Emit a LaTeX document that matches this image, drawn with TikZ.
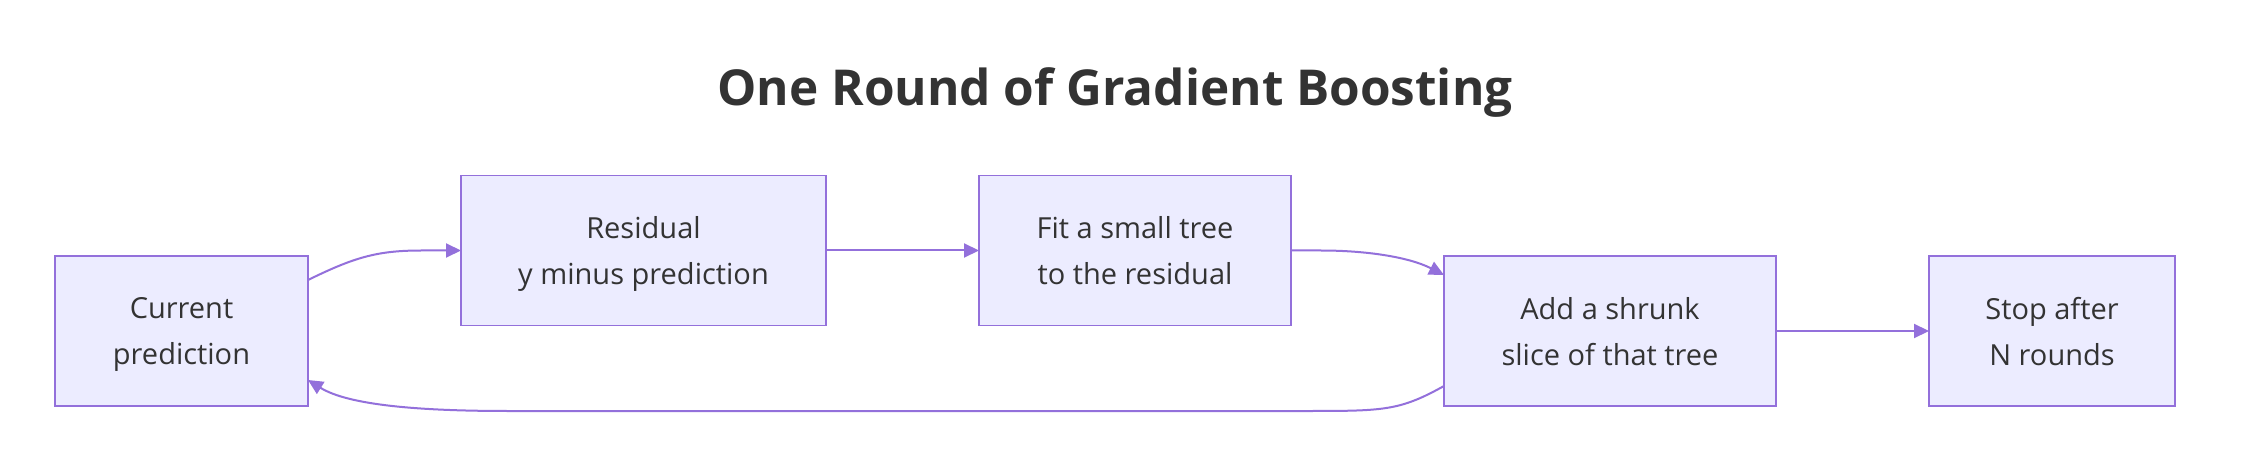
\documentclass[tikz,border=0pt]{standalone}
\usepackage{fontspec}
\setmainfont{Open Sans}
\usetikzlibrary{positioning,arrows.meta}
\definecolor{boxfill}{HTML}{ECECFF}
\definecolor{boxline}{HTML}{9370DB}
\definecolor{ink}{HTML}{333333}

\begin{document}
\begin{tikzpicture}[>={Triangle[length=15pt,width=14pt]},node distance=153pt]
    \tikzstyle{box}=[draw=boxline,fill=boxfill,line width=1.5pt,minimum height=150pt,inner sep=0pt,outer sep=0pt,text depth=0pt,align=center,text=ink,font=\fontsize{29}{46}\selectfont]
    \tikzstyle{flow}=[->,draw=boxline,line width=2pt]

    \fill[white] (0,0) rectangle (2248pt,-470pt);
    \useasboundingbox (0,0) rectangle (2248pt,-470pt);

    \node[text=ink,font=\fontsize{49.5}{60}\selectfont\bfseries] (title) at (1115pt,-93pt) {One Round of Gradient Boosting};

    \node[box,minimum width=253pt] (cur)                           at (181.5pt,-331pt) {Current\\prediction};
    \node[box,minimum width=365pt] (res)  [right=of cur,yshift=80.5pt]  {Residual\\y minus prediction};
    \node[box,minimum width=312pt] (fit)  [right=of res]                {Fit a small tree\\to the residual};
    \node[box,minimum width=332pt] (add)  [right=of fit,yshift=-80.5pt] {Add a shrunk\\slice of that tree};
    \node[box,minimum width=246pt] (stop) [right=of add]                {Stop after\\N rounds};

    \draw[flow] ([yshift=-24pt]cur.north east) .. controls +(45pt,22pt) and +(-45pt,0pt) .. ([xshift=-40pt]res.west) -- (res.west);
    \draw[flow] (res) -- (fit);
    \draw[flow] (fit.east) -- ++(30pt,0pt) .. controls +(45pt,0pt) and +(-35pt,18pt) .. ([yshift=-19pt]add.north west);
    \draw[flow] (add) -- (stop);
    \draw[flow] ([yshift=20pt]add.south west) .. controls +(-45pt,-25pt) and +(80pt,0pt) .. ([xshift=-140pt,yshift=-5pt]add.south west)
        -- ([xshift=200pt,yshift=-5pt]cur.south east) .. controls +(-90pt,0pt) and +(40pt,-25pt) .. ([yshift=26pt]cur.south east);
\end{tikzpicture}
\end{document}
